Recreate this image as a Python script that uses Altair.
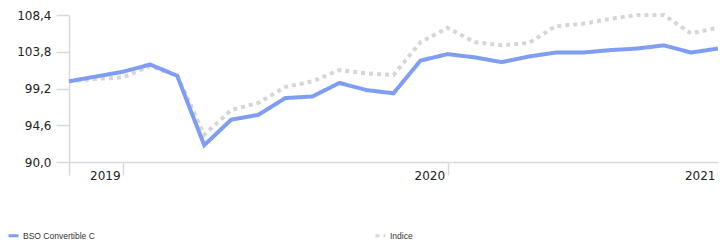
import altair as alt
import pandas as pd

# Monthly observations (index positions along the x axis)
bso_values = [100.1, 100.7, 101.3, 102.2, 100.8, 92.1, 95.3, 95.9, 98.0, 98.2,
              99.9, 99.0, 98.6, 102.7, 103.5, 103.1, 102.5, 103.2, 103.7, 103.7,
              104.0, 104.2, 104.6, 103.7, 104.2]
indice_values = [100.1, 100.4, 100.6, 102.0, 100.8, 93.4, 96.5, 97.4, 99.4, 100.1,
                 101.5, 101.1, 100.9, 105.0, 106.8, 105.0, 104.6, 104.9, 107.0, 107.3,
                 107.9, 108.4, 108.4, 106.1, 106.8]
series_names = ["BSO Convertible C", "Indice"]
x_tick_positions = [0, 2, 14, 24]
x_tick_labels = ["", "2019", "2020", "2021"]
y_ticks = [90.0, 94.6, 99.2, 103.8, 108.4]

rows = []
for i, v in enumerate(bso_values):
    rows.append({"idx": i, "value": v, "series": series_names[0]})
for i, v in enumerate(indice_values):
    rows.append({"idx": i, "value": v, "series": series_names[1]})
df = pd.DataFrame(rows)

label_expr = " : ".join(
    f"datum.value == {p} ? '{l}'" for p, l in zip(x_tick_positions, x_tick_labels)
) + " : ''"

axis_color = "#d9d9d9"

x_enc = alt.X(
    "idx:Q",
    scale=alt.Scale(domain=[0, 24], nice=False, zero=False),
    axis=alt.Axis(
        title=None, values=x_tick_positions, labelExpr=label_expr, grid=False,
        domainColor=axis_color, domainWidth=1.5, tickColor=axis_color, tickWidth=1.5,
        tickSize=13, labelAlign="right", labelBaseline="top", labelPadding=-5,
        labelOffset=-3, labelFont="DejaVu Sans", labelFontSize=12, labelColor="#222",
        labelFlush=False, labelOverlap=False,
    ),
)
y_enc = alt.Y(
    "value:Q",
    scale=alt.Scale(domain=[90, 108.4], nice=False, zero=False),
    axis=alt.Axis(
        title=None, values=y_ticks, grid=False,
        labelExpr="replace(format(datum.value, '.1f'), '.', ',')",
        domainColor=axis_color, domainWidth=1.5, tickColor=axis_color, tickWidth=1.5,
        tickSize=13, labelPadding=5, labelFont="DejaVu Sans", labelFontSize=12,
        labelColor="#222", labelFlush=False, labelOverlap=False,
    ),
)
color_enc = alt.Color(
    "series:N",
    scale=alt.Scale(domain=series_names, range=["#7f9ef3", "#d6d6d6"]),
    legend=alt.Legend(
        title=None, orient="none", legendX=-62, legendY=214, direction="horizontal",
        symbolType="stroke", symbolSize=100, symbolStrokeWidth=3,
        labelFont="Liberation Sans", labelFontSize=8.5,
        labelColor="#333", labelOffset=3, columnPadding=274,
    ),
)
dash_enc = alt.StrokeDash(
    "series:N",
    scale=alt.Scale(domain=series_names, range=[[1, 0], [4, 4]]),
    legend=None,
)

base = alt.Chart(df).encode(x=x_enc, y=y_enc, color=color_enc, strokeDash=dash_enc)
gray = base.transform_filter(alt.datum.series == series_names[1]).mark_line(strokeWidth=4)
blue = base.transform_filter(alt.datum.series == series_names[0]).mark_line(strokeWidth=4)

chart = alt.layer(gray, blue).properties(
    width=649, height=147,
    autosize=alt.AutoSizeParams(type="none"),
    padding={"left": 61, "top": 7, "right": 0, "bottom": 78},
).configure_view(stroke=None)

chart.save("out.html", embed_options={"renderer": "svg", "actions": False})
